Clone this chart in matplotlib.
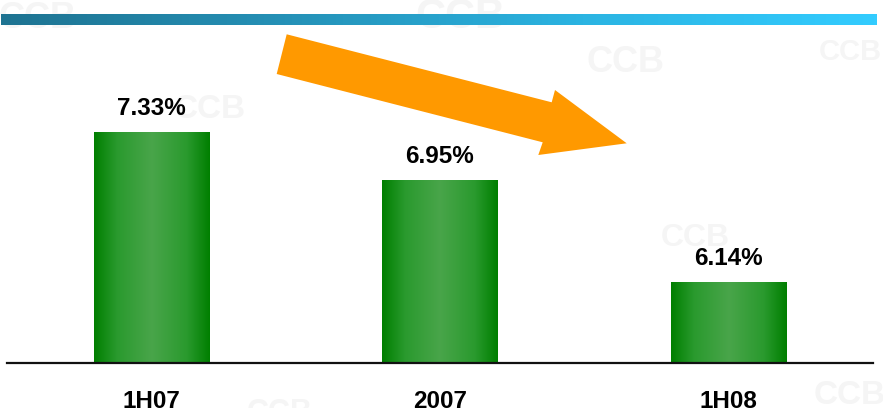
import numpy as np
import matplotlib
matplotlib.use("Agg")
import matplotlib.pyplot as plt
from matplotlib.patches import Polygon
from matplotlib.colors import LinearSegmentedColormap

# ---- data ----
categories = ["1H07", "2007", "1H08"]
values = [7.33, 6.95, 6.14]
value_labels = ["7.33%", "6.95%", "6.14%"]

W, H = 883, 408
fig = plt.figure(figsize=(W / 100, H / 100), dpi=100)
fig.patch.set_facecolor("white")

def fx(px):
    return px / W

def fy(py):
    return 1 - py / H

# ---- watermarks ----
wm = [(38, 18, 26), (210, 110, 24), (460, 17, 30), (625, 62, 26),
      (850, 52, 21), (695, 238, 23), (850, 396, 24), (280, 413, 22)]
for cx, cy, sz in wm:
    fig.text(fx(cx), fy(cy), "CCB", fontsize=sz, fontweight="bold",
             family="Liberation Sans", color="#f5f5f5",
             ha="center", va="center", zorder=-5)

# ---- title gradient strip ----
axg = fig.add_axes([fx(1), fy(25), fx(876), 11 / H])
grad_cmap = LinearSegmentedColormap.from_list(
    "g", ["#1e7391", "#2592b8", "#2bb4e2", "#33ccff"])
axg.imshow(np.linspace(0, 1, 256)[None, :], aspect="auto", cmap=grad_cmap,
           extent=[0, 1, 0, 1])
axg.set_axis_off()

# ---- main axes ----
ax = fig.add_axes([fx(7), fy(363), fx(873 - 7), 363 / H])
ax.set_facecolor("none")
for s in ["top", "right", "left"]:
    ax.spines[s].set_visible(False)
ax.spines["bottom"].set_linewidth(1.6)
ax.spines["bottom"].set_color("#111111")
ax.set_yticks([])
ax.set_xticks([])

x = np.arange(len(categories))
bars = ax.bar(x, [v - 5.5 for v in values], bottom=5.5, width=0.40,
              color="none", edgecolor="none", zorder=2)

bar_cmap = LinearSegmentedColormap.from_list(
    "b", [(0.0, "#007f00"), (0.2, "#2a9a2e"), (0.5, "#49a54a"),
          (0.8, "#2a9a2e"), (1.0, "#007f00")])
grad = np.linspace(0, 1, 256)[None, :]
for b in bars:
    x0, y0 = b.get_x(), b.get_y()
    im = ax.imshow(grad, aspect="auto", cmap=bar_cmap,
                   extent=[x0, x0 + b.get_width(), y0, y0 + b.get_height()],
                   zorder=2)
    im.set_clip_path(b)

ax.set_xlim(-0.5, 2.5)
ax.set_ylim(5.5, 5.5 + 363 / 126)

for xi, v, lab in zip(x, values, value_labels):
    ax.annotate(lab, (xi, v), xytext=(0, 17), textcoords="offset points",
                ha="center", va="center", fontsize=17.5, fontweight="bold",
                family="Liberation Sans", color="black", zorder=4)

for xi, c in zip(x, categories):
    ax.annotate(c, (xi, 5.5), xytext=(0, -32.5), textcoords="offset points",
                ha="center", va="baseline", fontsize=17.5, fontweight="bold",
                family="Liberation Sans", color="black",
                annotation_clip=False)

# ---- decorative arrow ----
arrow_px = [(286.7, 34.3), (551.7, 102.3), (555, 90), (626.7, 143.3),
            (538.3, 155), (542.7, 142.3), (276.7, 74)]
arrow = Polygon([(fx(a), fy(b)) for a, b in arrow_px], closed=True,
                transform=fig.transFigure, facecolor="#ff9900",
                edgecolor="none", zorder=5)
fig.add_artist(arrow)

fig.savefig("out.png", dpi=100, facecolor="white")
